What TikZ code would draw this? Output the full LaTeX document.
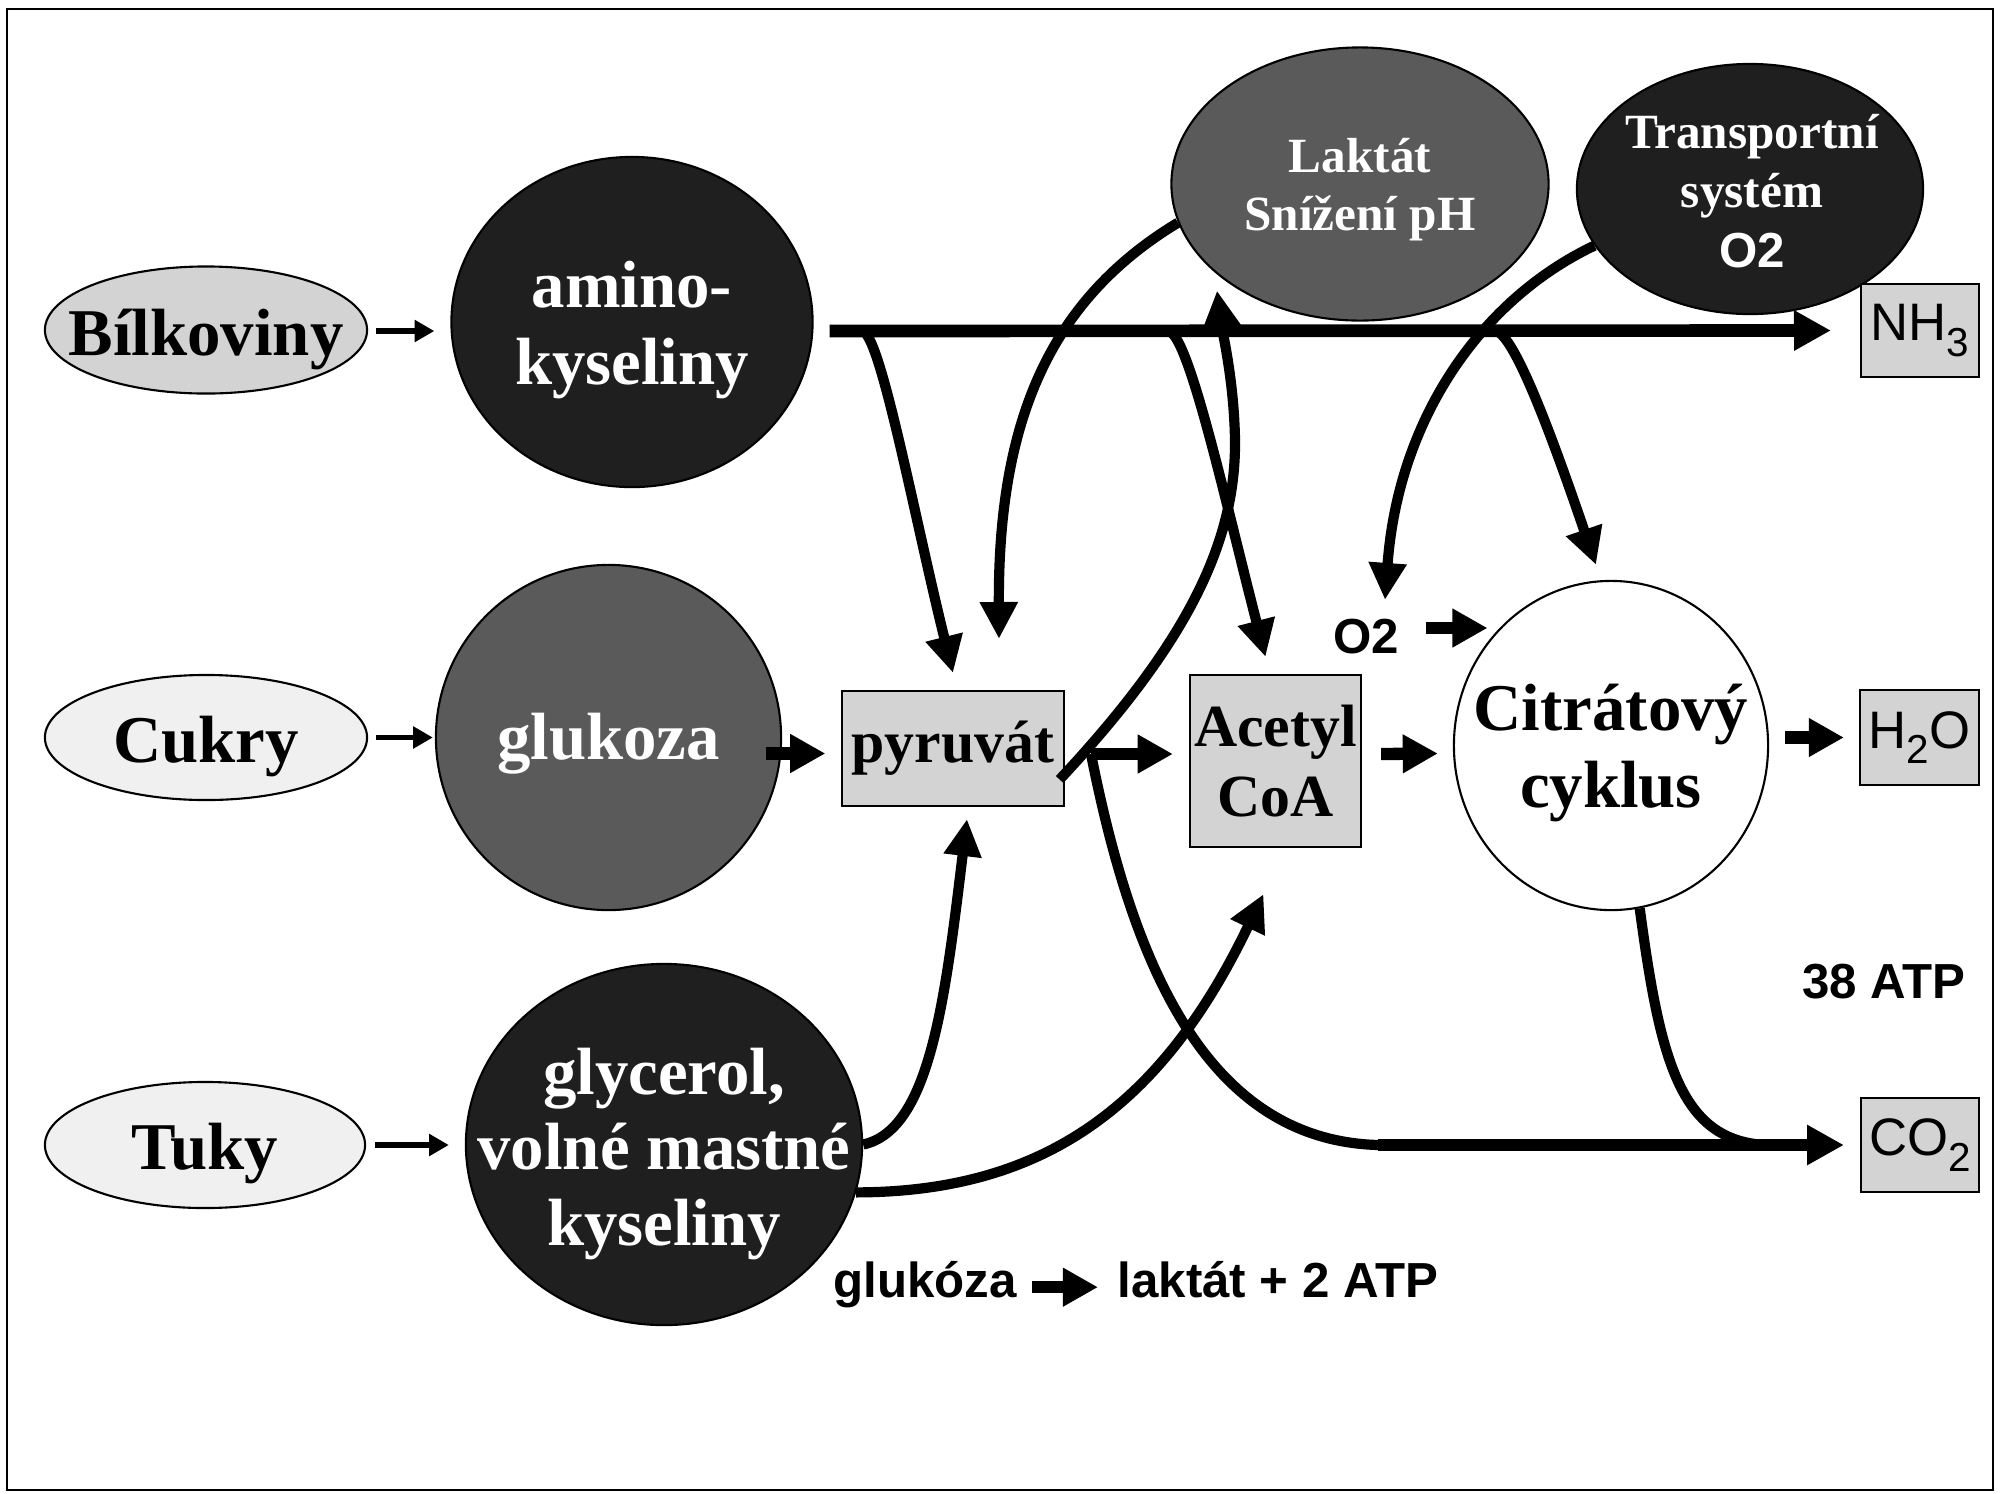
\documentclass[tikz,border=0pt]{standalone}
\usepackage{fontspec}
\setmainfont{Liberation Serif}
\setsansfont{Liberation Sans}
\usetikzlibrary{shapes.geometric,arrows.meta,calc}
\definecolor{lgray}{HTML}{D3D3D3}
\definecolor{pale}{HTML}{F0F0F0}
\definecolor{mgray}{HTML}{5A5A5A}
\definecolor{dgray}{HTML}{1F1F1F}

\begin{document}
\begin{tikzpicture}[x=0.01cm,y=-0.01cm]
        \tikzstyle{every node}+=[inner sep=0pt]
        \tikzstyle{oval}=[draw=black, line width=0.6pt, ellipse]
        \tikzstyle{gbox}=[draw=black, line width=0.6pt, fill=lgray]
        \tikzstyle{tx}=[font=\fontsize{19}{22}\selectfont\bfseries, align=center]
        \tikzstyle{wtx}=[tx, text=white]
        \tikzstyle{sb}=[font=\sffamily\bfseries\fontsize{14}{17}\selectfont]
        \tikzstyle{chem}=[font=\sffamily\fontsize{15}{17}\selectfont]
        \tikzstyle{thinarr}=[line width=1.6pt, -{Triangle[length=5.6pt,width=6pt]}]
        \tikzstyle{fat}=[line width=3.5pt, -{Triangle[length=10pt,width=10.4pt]}]
        \tikzstyle{flow}=[line width=2.9pt, -{Triangle[length=10.5pt,width=10.2pt]}]
        \tikzstyle{bus}=[line width=3.6pt, -{Triangle[length=10.5pt,width=10.8pt]}]
        \useasboundingbox (0,0) rectangle (2002,1493);
        \draw [line width=0.8pt] (7,9) rectangle (1993,1490);
        \node [oval, fill=lgray, minimum width=3.22cm, minimum height=1.27cm] (bil) at (206,330) {};
        \node [tx] (bilt) at (206,339) {Bílkoviny};
        \node [oval, fill=pale, minimum width=3.22cm, minimum height=1.25cm] (cuk) at (206,737.5) {};
        \node [tx] (cukt) at (206,747) {Cukry};
        \node [oval, fill=pale, minimum width=3.2cm, minimum height=1.26cm] (tuk) at (205,1145) {};
        \node [tx] (tukt) at (205,1154) {Tuky};
        \node [oval, fill=dgray, minimum width=3.61cm, minimum height=3.3cm] (amino) at (632,322) {};
        \node [wtx] (aminot) at (632,330) {amino-\\kyseliny};
        \node [oval, fill=mgray, minimum width=3.45cm, minimum height=3.45cm] (gluk) at (608.5,737.5) {};
        \node [wtx] (glukt) at (608.5,744) {glukoza};
        \node [oval, fill=dgray, minimum width=3.96cm, minimum height=3.61cm] (glyc) at (664,1144.5) {};
        \node [wtx, font=\fontsize{19}{21.5}\selectfont\bfseries] (glyct) at (664,1154) {glycerol,\\volné mastné\\kyseliny};
        \node [gbox, minimum width=2.21cm, minimum height=1.15cm, font=\fontsize{17}{20}\selectfont\bfseries] (pyr) at (953,748.5) {pyruvát};
        \node [gbox, minimum width=1.71cm, minimum height=1.72cm, align=center, font=\fontsize{17}{20}\selectfont\bfseries] (acoa) at (1275.5,761) {Acetyl\\CoA};
        \node [oval, fill=white, minimum width=3.14cm, minimum height=3.29cm] (cit) at (1611,745.5) {};
        \node [tx] (citt) at (1611,753) {Citrátový\\cyklus};
        \node [oval, fill=mgray, minimum width=3.77cm, minimum height=2.73cm] (lak) at (1360,184) {};
        \node [wtx, font=\fontsize{14}{16.5}\selectfont\bfseries] (lakt) at (1360,190) {Laktát\\Snížení pH};
        \node [oval, fill=dgray, minimum width=3.46cm, minimum height=2.5cm] (trans) at (1750,189) {};
        \node [wtx, font=\fontsize{14}{17}\selectfont\bfseries] (transt) at (1752,191) {Transportní\\systém\\{\sffamily O2}};
        \node [gbox, minimum width=1.18cm, minimum height=0.93cm, chem] (nh3) at (1920,330.5) {NH\raisebox{-4.5pt}{\fontsize{11.5}{11.5}\selectfont 3}};
        \node [gbox, minimum width=1.19cm, minimum height=0.95cm, chem] (h2o) at (1919.5,737.5) {H\raisebox{-4.5pt}{\fontsize{11.5}{11.5}\selectfont 2}O};
        \node [gbox, minimum width=1.18cm, minimum height=0.94cm, chem] (co2) at (1920,1145) {CO\raisebox{-4.5pt}{\fontsize{11.5}{11.5}\selectfont 2}};
        \node [sb] (o2) at (1366,637) {O2};
        \node [sb] (atp) at (1884,982) {38 ATP};
        \node [sb, anchor=base] (glk) at (925,1297) {glukóza};
        \node [sb, anchor=base] (lkt) at (1278,1297) {laktát + 2 ATP};
        \coordinate (k1) at (862,331);
        \coordinate (k2) at (1168,331);
        \coordinate (k3) at (1495,331);
        \coordinate (k4) at (1091,754);
        \coordinate (j1) at (1378,1145);
        \coordinate (j2) at (1765,1145);
        \draw [thinarr] ($(bil.east)+(8,1)$) -- ($(bil.east -| amino.west)+(-16,1)$);
        \draw [thinarr] ($(cuk.east)+(8,0)$) -- ($(cuk.east -| gluk.west)+(-2,0)$);
        \draw [thinarr] ($(tuk.east)+(9,0)$) -- ($(tuk.east -| glyc.west)+(-16,0)$);
        \draw [bus] ($(amino.east)+(16,9)$) -- ($(nh3.west)+(-29,0)$);
        \draw [flow] (k1) .. controls (880,331) and (915,520) .. ($(pyr.north)+(0,-17)$);
        \draw [flow] (k2) .. controls (1188,331) and (1225,500) .. ($(acoa.north)+(-10,-17)$);
        \draw [flow] (k3) .. controls (1515,331) and (1560,460) .. ($(cit.north)+(-15,-15)$);
        \draw [flow] (lak.192) .. controls (1050,300) and (998,420) .. ($(pyr.north)+(46,-51)$);
        \draw [flow] ($(pyr.east)+(-5,31)$) .. controls (1190,640) and (1236,540) .. (1235,440) .. controls (1234,380) and (1222,330) .. ($(lak.south)+(-143,-31)$);
        \draw [flow] (trans.200) .. controls (1480,300) and (1398,420) .. ($(o2.north)+(19,-19)$);
        \draw [flow] (glyc.east) .. controls (930,1130) and (945,1000) .. ($(pyr.south)+(14,12)$);
        \draw [flow] (glyc.-14) .. controls (1040,1192) and (1160,1110) .. ($(acoa.south)+(-12,46)$);
        \draw [line width=2.9pt] (k4) .. controls (1130,950) and (1200,1140) .. (j1);
        \draw [line width=2.9pt] (cit.-80) .. controls (1660,1060) and (1680,1140) .. (j2);
        \draw [bus] (j1) -- ($(co2.west)+(-16,0)$);
        \draw [fat] ($(gluk.east)+(-16,16)$) -- ($(pyr.west)+(-16,5)$);
        \draw [fat] (k4) -- ($(acoa.west)+(-16,-7)$);
        \draw [fat] ($(acoa.east)+(19,-7)$) -- ($(cit.west)+(-15,8)$);
        \draw [fat] ($(cit.east)+(16,-8)$) -- ($(h2o.west)+(-15,0)$);
        \draw [fat] ($(o2.east)+(26,-9)$) -- ($(o2.east)+(88,-9)$);
        \draw [fat] ($(glk.east)+(15,3)$) -- ($(glk.east -| lkt.west)+(-19,3)$);
\end{tikzpicture}
\end{document}
